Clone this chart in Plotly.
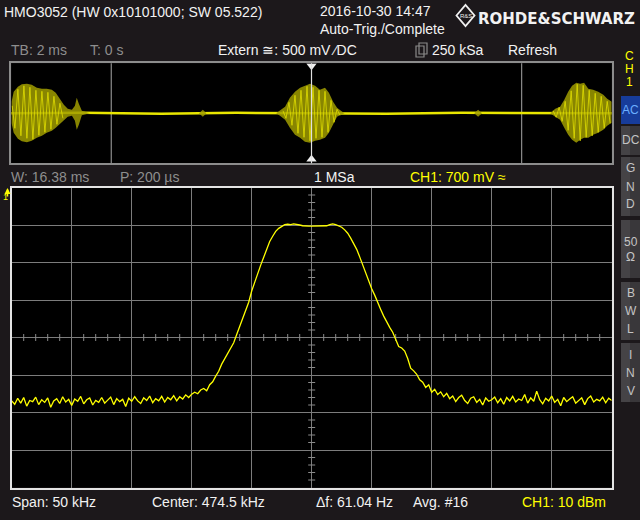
import plotly.graph_objects as go

W, H = 640, 520

# ---------------- data ----------------
# Main spectrum: center 474.5 kHz, span 50 kHz, values in dBm (0.25 kHz steps)
freq_start_khz = 449.5
freq_step_khz = 0.25
spec_left_noise = [
    -46.9, -47.8, -46.2, -47.5, -46.0, -48.3, -46.8, -47.1, -45.9, -47.9,
    -46.6, -47.3, -46.1, -48.6, -46.9, -46.3, -47.6, -45.8, -47.2, -46.5,
    -48.1, -46.4, -47.0, -45.7, -47.7, -46.6, -46.1, -48.0, -46.8, -47.3,
    -46.0, -47.5, -46.7, -45.9, -47.9, -46.3, -47.1, -46.5, -48.4, -46.2,
    -47.0, -45.8, -46.9, -47.6, -46.1, -46.8, -45.6, -47.4, -46.3, -46.9,
    -45.7, -47.2, -46.0, -46.6, -45.5, -46.9, -45.8, -46.4, -45.3, -46.0]
spec_passband = [
    -45.1, -44.6, -45.0, -44.0, -43.6, -44.2, -42.6, -41.8, -40.3, -39.0,
    -37.1, -35.6, -34.1, -32.9, -31.4, -29.2, -27.0, -25.0, -23.1, -20.6,
    -17.6, -15.1, -12.8, -10.7, -8.6, -6.2, -4.4, -3.0, -1.7, -0.9,
    -0.3, 0.1, 0.2, 0.1, 0.3, 0.2, 0.0, -0.2, -0.3, -0.3,
    -0.3, -0.3, -0.3, -0.3, -0.3, -0.2, 0.1, 0.3, 0.1, -0.2,
    -0.6, -1.3, -2.2, -3.5, -4.9, -6.5, -8.5, -10.7, -12.9, -15.0,
    -17.0, -18.7, -20.4, -22.5, -24.3, -26.0, -27.3, -28.6, -30.4, -32.4,
    -32.8, -33.6, -35.6, -38.2, -38.9, -39.8, -41.3, -41.9, -43.3, -42.6,
    -44.6, -43.8, -45.2, -44.5, -45.8, -44.9, -46.3]
spec_right_noise = [
    -45.6, -47.1, -46.0, -45.4, -46.8, -47.6, -46.2, -45.8, -47.3, -46.5,
    -48.0, -46.1, -47.0, -46.6, -45.9, -47.4, -46.3, -47.8, -46.0, -46.9,
    -45.7, -47.2, -46.4, -46.8, -45.2, -47.5, -46.1, -47.0, -44.3, -46.6,
    -47.7, -46.2, -46.9, -45.6, -47.3, -46.5, -48.2, -46.0, -47.1, -46.4,
    -45.8, -47.5, -46.7, -46.1, -47.9, -46.3, -45.6, -47.2, -46.5, -46.9,
    -45.9, -47.4, -46.2, -46.8]
spec_dbm = spec_left_noise + spec_passband + spec_right_noise
freq_khz = [freq_start_khz + freq_step_khz * i for i in range(len(spec_dbm))]

# Overview (time domain, ms) burst envelope
ov_t = [-9.99, -9.92, -9.78, -9.65, -9.48, -9.32, -9.15, -8.98, -8.82, -8.65,
        -8.52, -8.38, -8.25, -8.12, -7.98, -7.88, -7.82, -7.75, -7.65, -7.38,
        -3.75, -3.62, -3.5,
        -1.18, -1.05, -0.88, -0.72, -0.55, -0.38, -0.22, -0.05, 0.12, 0.28,
        0.45, 0.58, 0.72, 0.85, 0.98, 1.1,
        5.42, 5.55, 5.68,
        7.95, 8.12, 8.28, 8.42, 8.55, 8.68, 8.82, 8.95, 9.08, 9.22, 9.38,
        9.55, 9.72, 9.85, 10.0]
ov_hi = [0.23, 0.43, 0.53, 0.58, 0.59, 0.57, 0.51, 0.49, 0.49, 0.47,
         0.41, 0.29, 0.17, 0.09, 0.07, 0.15, 0.31, 0.19, 0.05, 0.0,
         0.0, 0.07, 0.0,
         0.0, 0.06, 0.13, 0.31, 0.43, 0.51, 0.55, 0.59, 0.55, 0.47,
         0.51, 0.41, 0.23, 0.11, 0.05, 0.0,
         0.0, 0.07, 0.0,
         0.0, 0.09, 0.13, 0.27, 0.43, 0.55, 0.61, 0.59, 0.61, 0.49, 0.47,
         0.43, 0.37, 0.29, 0.23]
ov_lo = [-0.20, -0.39, -0.51, -0.56, -0.58, -0.55, -0.49, -0.45, -0.39, -0.35,
         -0.29, -0.21, -0.13, -0.07, -0.05, -0.15, -0.33, -0.23, -0.04, 0.0,
         0.0, -0.07, 0.0,
         0.0, -0.05, -0.13, -0.29, -0.43, -0.49, -0.57, -0.59, -0.55, -0.53,
         -0.49, -0.39, -0.23, -0.07, -0.03, 0.0,
         0.0, -0.07, 0.0,
         0.0, -0.07, -0.13, -0.29, -0.43, -0.53, -0.59, -0.53, -0.49, -0.49,
         -0.43, -0.39, -0.33, -0.25, -0.19]
ov_line_t = [-10.0, -7.6, -5.0, -2.5, 0.0, 2.5, 5.0, 7.5, 10.0]
ov_line_v = [0.0, 0.01, -0.01, 0.01, 0.0, -0.01, 0.01, 0.0, 0.0]

zig_left_t = [-9.97, -9.88, -9.78, -9.68, -9.58, -9.48, -9.38, -9.28, -9.18,
              -9.08, -8.98, -8.88, -8.78, -8.68, -8.58, -8.48, -8.38, -8.28]
zig_left_v = [0.15, -0.30, 0.48, -0.45, 0.55, -0.50, 0.52, -0.52, 0.46,
              -0.44, 0.44, -0.38, 0.42, -0.32, 0.34, -0.22, 0.20, -0.10]
zig_mid_t = [-0.95, -0.85, -0.75, -0.65, -0.55, -0.45, -0.35, -0.25, -0.15, -0.05,
             0.05, 0.15, 0.25, 0.35, 0.45, 0.55, 0.65, 0.75, 0.85, 0.95]
zig_mid_v = [0.05, -0.10, 0.22, -0.24, 0.36, -0.40, 0.46, -0.48, 0.54, -0.55,
             0.52, -0.50, 0.46, -0.48, 0.44, -0.38, 0.26, -0.18, 0.08, -0.04]
zig_right_t = [8.05, 8.15, 8.25, 8.35, 8.45, 8.55, 8.65, 8.75, 8.85, 8.95,
               9.05, 9.15, 9.25, 9.35, 9.45, 9.55, 9.65, 9.75, 9.85, 9.95]
zig_right_v = [0.05, -0.08, 0.12, -0.16, 0.24, -0.34, 0.45, -0.50, 0.58, -0.55,
               0.56, -0.48, 0.46, -0.45, 0.40, -0.38, 0.34, -0.30, 0.24, -0.20]
ov_window_ms = [-6.67, 7.0]

# ---------------- helpers ----------------
def PX(x):
    return x / W

def PY(y):
    return 1 - y / H

FONT = "Liberation Sans"
WHITE = "#f2f2f2"
GREY = "#8e8e8e"
YEL = "#ffff00"

fig = go.Figure()

# minor ticks on centre cross of main graticule
mx = [freq_start_khz + k for k in range(1, 50) if k % 5]
fig.add_trace(go.Scatter(x=mx, y=[-30] * len(mx), mode="markers", xaxis="x", yaxis="y",
                         marker=dict(symbol="line-ns", size=5, line=dict(color="#8a8a8a", width=1)),
                         hoverinfo="skip"))
my = [-70 + 2 * j for j in range(1, 40) if j % 5]
fig.add_trace(go.Scatter(x=[474.5] * len(my), y=my, mode="markers", xaxis="x", yaxis="y",
                         marker=dict(symbol="line-ew", size=5, line=dict(color="#8a8a8a", width=1)),
                         hoverinfo="skip"))

# main spectrum
fig.add_trace(go.Scatter(x=freq_khz, y=spec_dbm, mode="lines", xaxis="x", yaxis="y",
                         line=dict(color=YEL, width=1.3)))

# overview
fig.add_trace(go.Scatter(x=ov_line_t, y=ov_line_v, mode="lines", xaxis="x2", yaxis="y2",
                         line=dict(color="#e8e600", width=2.5)))
fig.add_trace(go.Scatter(x=ov_t, y=ov_lo, mode="lines", xaxis="x2", yaxis="y2",
                         line=dict(width=0, color="rgba(0,0,0,0)")))
fig.add_trace(go.Scatter(x=ov_t, y=ov_hi, mode="lines", xaxis="x2", yaxis="y2", fill="tonexty",
                         fillcolor="rgba(160,156,0,0.85)", line=dict(width=0, color="rgba(0,0,0,0)")))
for zt, zv in ((zig_left_t, zig_left_v), (zig_mid_t, zig_mid_v), (zig_right_t, zig_right_v)):
    fig.add_trace(go.Scatter(x=zt, y=zv, mode="lines", xaxis="x2", yaxis="y2",
                             line=dict(color="rgba(225,222,0,0.8)", width=1)))
# trigger markers
fig.add_trace(go.Scatter(x=[0], y=[0.95], mode="markers", xaxis="x2", yaxis="y2",
                         marker=dict(symbol="triangle-down", size=9, color="#f0f0f0")))
fig.add_trace(go.Scatter(x=[0], y=[-0.92], mode="markers", xaxis="x2", yaxis="y2",
                         marker=dict(symbol="triangle-up", size=9, color="#f0f0f0")))

shapes = []
# overview window lines and trigger line
for t in ov_window_ms:
    shapes.append(dict(type="line", xref="x2", yref="y2 domain", x0=t, x1=t, y0=0, y1=1,
                       line=dict(color="#8c8c8c", width=1.2), layer="below"))
shapes.append(dict(type="line", xref="x2", yref="y2 domain", x0=0, x1=0, y0=0, y1=1,
                   line=dict(color="#e0e0e0", width=1.2)))

# side buttons
buttons = [
    (["AC"], 96, 124, True),
    (["DC"], 126, 155, False),
    (["G", "N", "D"], 157, 216, False),
    (["50", "Ω"], 220, 278, False),
    (["B", "W", "L"], 282, 340, False),
    (["I", "N", "V"], 343, 402, False),
]
ann = []
for labels, y0, y1, active in buttons:
    if active:
        shapes.append(dict(type="rect", xref="paper", yref="paper", x0=PX(621), x1=PX(640),
                           y0=PY(y1), y1=PY(y0), fillcolor="#173c9a", line=dict(width=0)))
        tc = "#6aaeff"
    else:
        shapes.append(dict(type="rect", xref="paper", yref="paper", x0=PX(621), x1=PX(630),
                           y0=PY(y1), y1=PY(y0), fillcolor="#454346", line=dict(width=0)))
        shapes.append(dict(type="rect", xref="paper", yref="paper", x0=PX(630), x1=PX(640),
                           y0=PY(y1), y1=PY(y0), fillcolor="#39373a", line=dict(width=0)))
        tc = "#c4c4c4"
    n = len(labels)
    cy = (y0 + y1) / 2
    step = 18 if n == 3 else 15
    for i, lab in enumerate(labels):
        yy = cy + (i - (n - 1) / 2) * step
        ann.append(dict(x=PX(630.5), y=PY(yy), xref="paper", yref="paper", text=lab,
                        showarrow=False, xanchor="center", yanchor="middle", borderpad=0,
                        font=dict(family=FONT, size=12, color=tc)))

# CH1 vertical label
for lab, yy in (("C", 56), ("H", 69), ("1", 82)):
    ann.append(dict(x=PX(629), y=PY(yy), xref="paper", yref="paper", text=lab, showarrow=False,
                    xanchor="center", yanchor="middle", borderpad=0,
                    font=dict(family=FONT, size=12, color=YEL)))

# R&S logo diamond
cx, cy, hw, hh = 465.5, 15.5, 9, 10.5
path = "M {},{} L {},{} L {},{} L {},{} Z".format(
    PX(cx - hw), PY(cy), PX(cx), PY(cy - hh), PX(cx + hw), PY(cy), PX(cx), PY(cy + hh))
shapes.append(dict(type="path", xref="paper", yref="paper", path=path,
                   line=dict(color="#f0f0f0", width=1.8)))
ann.append(dict(x=PX(cx), y=PY(cy), xref="paper", yref="paper", text="R&amp;S", showarrow=False,
                xanchor="center", yanchor="middle", borderpad=0,
                font=dict(family=FONT, size=6, color="#f0f0f0")))

# samples icon
for dx in (0, 3):
    shapes.append(dict(type="rect", xref="paper", yref="paper", x0=PX(416 + dx), x1=PX(424 + dx),
                       y0=PY(57 - dx), y1=PY(46 - dx), line=dict(color="#8a8a8a", width=1.2)))


def text(x, y, s, color=WHITE, size=14, bold=False):
    ann.append(dict(x=PX(x), y=PY(y), xref="paper", yref="paper",
                    text=("<b>%s</b>" % s) if bold else s, showarrow=False,
                    xanchor="left", yanchor="middle", borderpad=0,
                    font=dict(family=FONT, size=size, color=color)))


text(3, 12, "HMO3052 (HW 0x10101000; SW 05.522)")
text(319, 11, "2016-10-30 14:47")
text(319, 29, "Auto-Trig./Complete")
ann.append(dict(x=PX(477), y=PY(19), xref="paper", yref="paper", text="<b>ROHDE&amp;SCHWARZ</b>",
                showarrow=False, xanchor="left", yanchor="middle", borderpad=0,
                font=dict(family="DejaVu Sans", size=15, color=WHITE)))
text(10, 50, "TB: 2 ms", GREY)
text(89, 50, "T: 0 s", GREY)
text(217, 50, "Extern ≅: 500 mV ⁄DC")
text(431, 50, "250 kSa")
text(507, 50, "Refresh")
text(10, 177, "W: 16.38 ms", GREY)
text(119, 177, "P: 200 µs", GREY)
text(313, 177, "1 MSa")
text(409, 177, "CH1: 700 mV ≈", YEL)
text(11, 502, "Span: 50 kHz")
text(151, 502, "Center: 474.5 kHz")
text(315, 502, "Δf: 61.04 Hz")
text(412, 502, "Avg. #16")
text(521, 502, "CH1: 10 dBm", YEL)
text(2, 197, "1", YEL, size=9)
ann.append(dict(x=PX(7.5), y=PY(188), ax=0, ay=10, text="", showarrow=True, arrowhead=2,
                arrowsize=0.8, arrowwidth=1.5, arrowcolor=YEL, xref="paper", yref="paper"))

axis_common = dict(showticklabels=False, ticks="", zeroline=False, fixedrange=True, mirror=True,
                   showline=True)
fig.update_layout(
    width=W, height=H, margin=dict(l=0, r=0, t=0, b=0),
    paper_bgcolor="#1c181b", plot_bgcolor="#000000", showlegend=False,
    xaxis=dict(domain=[PX(11.7), PX(611.7)], range=[449.5, 499.5], tick0=449.5, dtick=5,
               showgrid=True, gridcolor="#7c7c7c", gridwidth=1, linecolor="#e4e4e4", linewidth=1.5,
               anchor="y", **axis_common),
    yaxis=dict(domain=[PY(487.5), PY(187.5)], range=[-70, 10], tick0=-70, dtick=10,
               showgrid=True, gridcolor="#7c7c7c", gridwidth=1, linecolor="#e4e4e4", linewidth=1.5,
               anchor="x", **axis_common),
    xaxis2=dict(domain=[PX(11.3), PX(611.7)], range=[-10, 10], showgrid=False,
                linecolor="#8c8c8c", linewidth=1.5, anchor="y2", **axis_common),
    yaxis2=dict(domain=[PY(163.3), PY(63.3)], range=[-1, 1], showgrid=False,
                linecolor="#8c8c8c", linewidth=1.5, anchor="x2", **axis_common),
    shapes=shapes, annotations=ann,
)

fig.write_html("out.html", config={"displayModeBar": False})
with open("out.html", "r", encoding="utf-8") as fh:
    html = fh.read()
html = html.replace("<head>", "<head><style>html,body{margin:0;padding:0;background:#1c181b;overflow:hidden}</style>", 1)
with open("out.html", "w", encoding="utf-8") as fh:
    fh.write(html)
